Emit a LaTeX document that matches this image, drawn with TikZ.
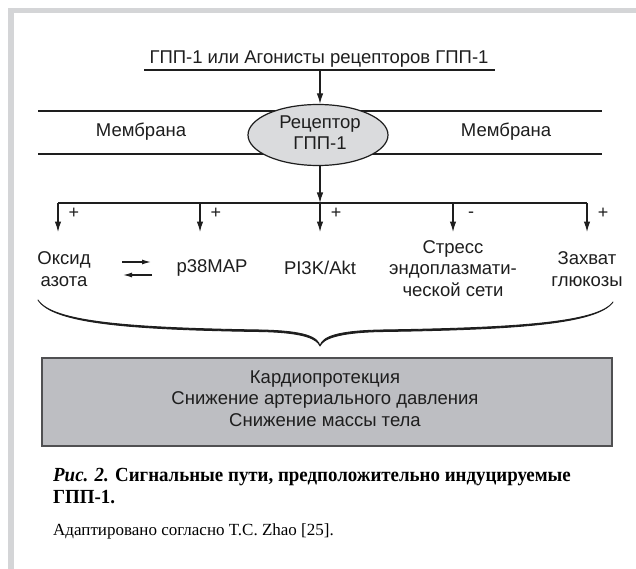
\documentclass[tikz,border=0pt]{standalone}
\usepackage{fontspec}
\setmainfont{Liberation Sans}
\newfontfamily\capserif{Liberation Serif}
\newfontfamily\capserifnarrow[FakeStretch=0.945]{Liberation Serif}
\usetikzlibrary{arrows.meta,shapes.geometric}
\definecolor{band}{RGB}{212,213,215}
\definecolor{ellfill}{RGB}{218,219,221}
\definecolor{boxfill}{RGB}{189,190,194}
\definecolor{boxline}{RGB}{80,80,82}
\definecolor{ink}{RGB}{30,30,30}
\begin{document}
\begin{tikzpicture}[x=1pt,y=-1pt,
  lbl/.style={font=\fontsize{18.5}{21.5}\selectfont, text=ink, inner sep=0pt, align=center},
  conn/.style={draw=ink, line width=1.2pt},
  arr/.style={conn, -{Latex[length=10.5pt,width=6.5pt]}},
  smallarr/.style={conn, -{Latex[length=9pt,width=5pt]}},
  sign/.style={font=\fontsize{18}{18}\selectfont, inner sep=0pt, text=ink},
  capfont/.style={font=\capserifnarrow\bfseries\fontsize{20}{22}\selectfont, inner sep=0pt, anchor=base west},
  srcfont/.style={font=\capserif\fontsize{17}{19}\selectfont, inner sep=0pt, anchor=base west}]
\useasboundingbox (0,0) rectangle (636,569);
\fill[white] (0,0) rectangle (636,569);
\fill[band] (8,8) rectangle (636,13.5);
\fill[band] (8,8) rectangle (14,569);

% title
\node[lbl, anchor=base] (title) at (319,64) {ГПП-1 или Агонисты рецепторов ГПП-1};
\coordinate (ulL) at (144,70);
\coordinate (ulR) at (495,70);
\coordinate (ulM) at (320,70);
\draw[conn] (ulL) -- (ulR);

% membrane
\coordinate (m1L) at (38,111);
\coordinate (m1R) at (602,111);
\coordinate (m2L) at (38,154);
\coordinate (m2R) at (602,154);
\draw[conn] (m1L) -- (m1R);
\draw[conn] (m2L) -- (m2R);
\node[lbl] (memL) at (141,132) {Мембрана};
\node[lbl] (memR) at (506,132) {Мембрана};

% receptor
\node[ellipse, draw=ink, fill=ellfill, line width=1.2pt, minimum width=140pt, minimum height=61pt, inner sep=0pt] (rec) at (318,135) {};
\node[lbl] (rectext) at (320,132.5) {Рецептор\\ГПП-1};
\draw[arr] (ulM) -- (ulM |- rec.north);

% branch
\coordinate (b1) at (58,203);
\coordinate (b2) at (200,203);
\coordinate (b3) at (320,203);
\coordinate (b4) at (453,203);
\coordinate (b5) at (587,203);
\coordinate (t1) at (58,232);
\coordinate (t2) at (200,232);
\coordinate (t3) at (320,232);
\coordinate (t4) at (453,232);
\coordinate (t5) at (587,232);
\draw[arr] (b3 |- rec.south) -- (b3);
\draw[conn] (b1) -- (b5);
\foreach \i in {1,...,5}{ \draw[arr] (b\i) -- (t\i); }
\node[sign] (s1) at (74,213) {+};
\node[sign] (s2) at (216,213) {+};
\node[sign] (s3) at (336,213) {+};
\node[sign] (s4) at (471,215) {-};
\node[sign] (s5) at (603,213) {+};

% targets
\node[lbl] (no) at (64,269) {Оксид\\азота};
\node[lbl] (p38) at (212,268) {p38MAP};
\node[lbl] (pi3k) at (320,268) {PI3K/Akt};
\node[lbl] (er) at (453,268.5) {Стресс\\эндоплазмати-\\ческой сети};
\node[lbl] (glu) at (587,269) {Захват\\глюкозы};
\coordinate (fa) at (122,262);
\coordinate (fb) at (151,262);
\coordinate (ra) at (152,275);
\coordinate (rb) at (123,275);
\draw[smallarr] (fa) -- (fb);
\draw[smallarr] (ra) -- (rb);

% brace (calligraphic: thicker towards the middle)
\coordinate (brL) at (38,300);
\coordinate (brT) at (320,346);
\coordinate (brR) at (613,302);
\filldraw[fill=ink, draw=ink, line width=0.9pt, line join=round]
  (brL) .. controls (52,322) and (130,328) .. (262,330)
  .. controls (305,331) and (318,337) .. (brT)
  .. controls (322,337) and (336,331) .. (380,330)
  .. controls (512,328) and (598,323) .. (brR)
  .. controls (597,324.5) and (512,329.6) .. (380,331.6)
  .. controls (337,332.6) and (323,339) .. (brT)
  .. controls (317,339) and (305,332.6) .. (262,331.6)
  .. controls (130,329.6) and (53,323.5) .. (brL) -- cycle;

% result box
\node[draw=boxline, fill=boxfill, line width=1.3pt, minimum width=570pt, minimum height=88pt, inner sep=0pt] (box) at (327,402) {};
\node[lbl] (boxtext) at (325,398.5) {Кардиопротекция\\Снижение артериального давления\\Снижение массы тела};

% caption
\node[capfont] (cap1) at (53,481) {\textit{Рис. 2.} Сигнальные пути, предположительно индуцируемые};
\node[capfont] (cap2) at (53,503) {ГПП-1.};
\node[srcfont] (src) at (53,535) {Адаптировано согласно T.C. Zhao [25].};
\end{tikzpicture}
\end{document}
